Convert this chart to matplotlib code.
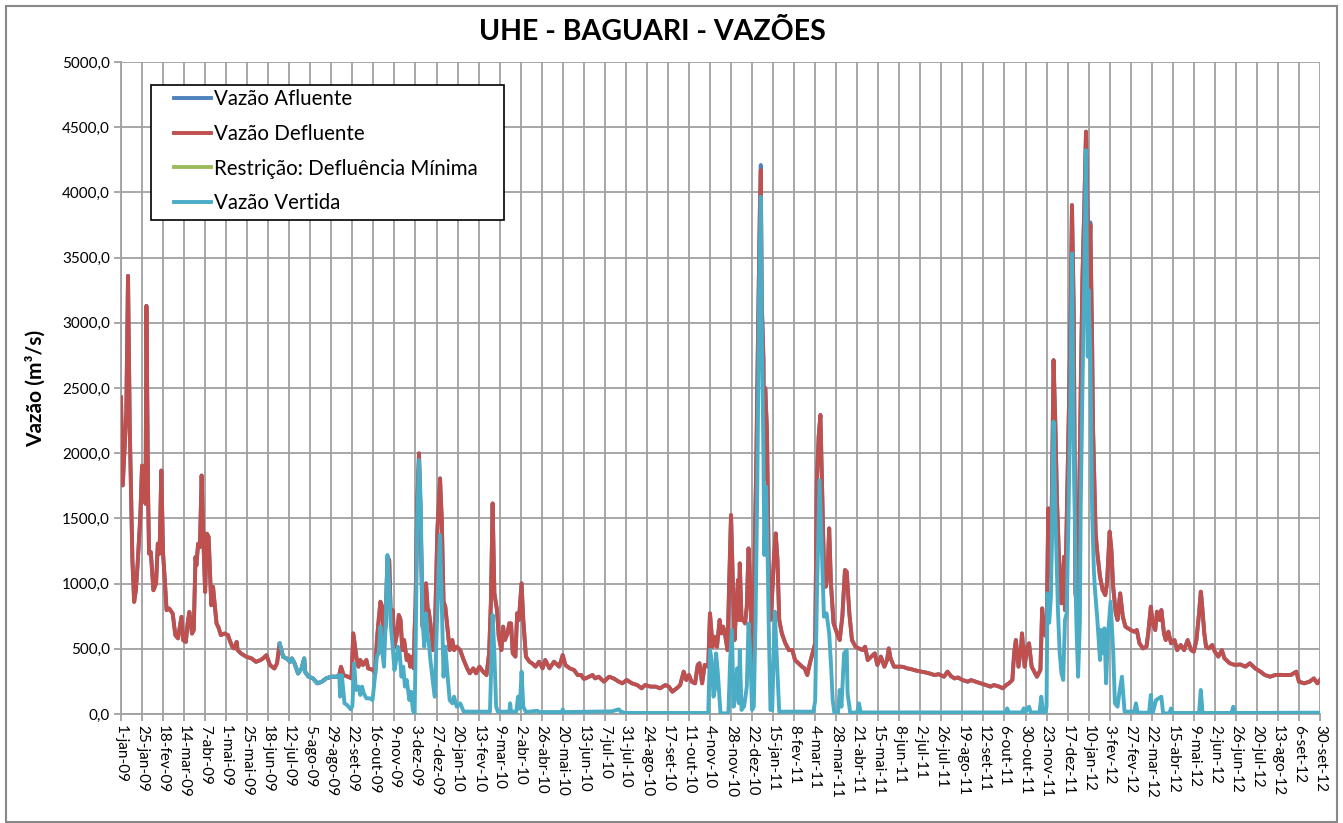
import datetime as dt

import matplotlib
matplotlib.use('Agg')
import matplotlib.pyplot as plt
from matplotlib.patches import Rectangle

plt.rcParams['font.family'] = ['Lato', 'DejaVu Sans']

# dias contados a partir de 01/01/2009
inicio = dt.date(2009, 1, 1)

dia_def = [0, 2, 6, 8, 10, 12, 13, 15, 17, 19, 22, 24, 25, 26, 28, 29, 31, 32, 34, 37,
           40, 42, 44, 46, 48, 50, 52, 55, 59, 62, 65, 69, 71, 74, 76, 78, 81, 83, 85, 86,
           88, 90, 92, 94, 96, 98, 100, 103, 105, 107, 109, 111, 114, 118, 122, 124, 127, 129, 132, 133,
           137, 143, 149, 154, 159, 162, 166, 170, 175, 178, 181, 185, 189, 193, 195, 198, 202, 206, 209, 210,
           214, 219, 224, 229, 234, 240, 246, 249, 251, 254, 259, 263, 265, 269, 271, 273, 276, 280, 282, 288,
           290, 292, 294, 296, 298, 300, 302, 304, 306, 308, 310, 312, 315, 317, 319, 321, 323, 326, 328, 330,
           332, 334, 335, 336, 338, 340, 342, 344, 346, 348, 350, 351, 353, 356, 358, 361, 364, 366, 368, 370,
           373, 375, 378, 380, 383, 387, 391, 395, 398, 402, 405, 409, 413, 417, 420, 422, 424, 426, 429, 431,
           434, 436, 438, 441, 443, 445, 447, 450, 452, 454, 457, 459, 462, 466, 469, 473, 477, 481, 484, 489,
           494, 500, 504, 507, 512, 517, 521, 525, 528, 530, 534, 538, 541, 545, 551, 557, 562, 568, 572, 577,
           583, 589, 594, 598, 604, 610, 615, 621, 625, 629, 634, 638, 642, 645, 648, 651, 655, 658, 660, 663,
           666, 670, 672, 675, 677, 680, 683, 685, 687, 689, 692, 694, 696, 698, 700, 702, 704, 705, 706, 708,
           710, 712, 714, 716, 718, 720, 721, 723, 725, 727, 729, 730, 731, 733, 734, 735, 737, 739, 741, 743,
           745, 747, 749, 751, 754, 758, 762, 766, 769, 773, 777, 780, 783, 786, 789, 792, 794, 796, 798, 800,
           802, 804, 806, 808, 810, 813, 817, 820, 823, 826, 828, 831, 834, 838, 842, 846, 849, 852, 856, 860,
           863, 867, 871, 874, 876, 878, 882, 886, 890, 893, 897, 901, 905, 909, 913, 917, 922, 928, 933, 939,
           943, 947, 951, 955, 960, 966, 970, 975, 981, 987, 992, 996, 1002, 1006, 1010, 1013, 1017, 1019, 1021, 1024,
           1027, 1028, 1031, 1034, 1036, 1039, 1042, 1045, 1049, 1051, 1053, 1056, 1058, 1061, 1064, 1066, 1068, 1071, 1073, 1076,
           1077, 1080, 1083, 1085, 1087, 1089, 1091, 1094, 1095, 1097, 1099, 1101, 1103, 1104, 1106, 1108, 1109, 1112, 1114, 1117,
           1120, 1123, 1125, 1128, 1130, 1132, 1135, 1137, 1140, 1143, 1146, 1152, 1156, 1159, 1162, 1166, 1170, 1172, 1175, 1177,
           1180, 1182, 1185, 1187, 1190, 1192, 1195, 1198, 1202, 1205, 1209, 1213, 1217, 1221, 1224, 1227, 1230, 1232, 1233, 1236,
           1238, 1241, 1245, 1248, 1252, 1256, 1259, 1265, 1271, 1277, 1283, 1288, 1294, 1300, 1305, 1311, 1317, 1323, 1329, 1335,
           1341, 1344, 1350, 1356, 1361, 1365, 1368]

defluente = [2428, 1753, 2300, 3360, 2200, 1510, 1180, 860, 950, 1153, 1510, 1905, 1638, 1867, 1612, 3130, 1638, 1230, 1242, 949,
             1000, 1306, 1230, 1867, 1230, 1025, 796, 809, 770, 605, 580, 745, 566, 553, 694, 783, 617, 643, 1204, 1140,
             1306, 1280, 1829, 1332, 936, 1383, 1357, 834, 975, 834, 694, 668, 605, 617, 605, 566, 515, 503, 553, 490,
             464, 439, 426, 400, 413, 426, 451, 375, 349, 388, 541, 439, 426, 400, 426, 388, 311, 349, 426, 324,
             286, 273, 235, 247, 273, 286, 286, 298, 362, 298, 286, 273, 618, 414, 363, 414, 376, 414, 350, 337,
             312, 567, 721, 861, 823, 542, 695, 1206, 1180, 695, 797, 516, 618, 759, 721, 490, 567, 414, 452, 363,
             440, 350, 644, 823, 1615, 1999, 1462, 670, 670, 1002, 797, 797, 695, 490, 593, 1411, 1807, 1488, 861, 823,
             618, 490, 567, 490, 516, 490, 414, 350, 312, 350, 312, 363, 325, 299, 465, 849, 1615, 925, 797, 593,
             490, 670, 567, 618, 695, 695, 465, 440, 772, 721, 1002, 721, 440, 401, 389, 363, 401, 350, 414, 350,
             401, 363, 452, 376, 350, 337, 299, 299, 270, 273, 286, 299, 273, 286, 248, 286, 273, 248, 235, 261,
             235, 222, 197, 222, 210, 210, 197, 222, 210, 171, 197, 222, 325, 261, 299, 248, 235, 376, 389, 235,
             376, 363, 772, 516, 593, 516, 721, 618, 670, 618, 490, 1027, 1526, 1027, 567, 823, 1027, 721, 1155, 721,
             721, 695, 823, 1270, 976, 465, 363, 1232, 2000, 3000, 3900, 4171, 3175, 2714, 1800, 2500, 2178, 1130, 721, 925,
             1200, 1385, 1181, 721, 618, 542, 490, 490, 414, 389, 363, 350, 299, 389, 465, 542, 1794, 2127, 2293, 1700,
             1130, 976, 1053, 1424, 1000, 695, 618, 567, 746, 1104, 1091, 772, 567, 516, 503, 490, 516, 414, 440, 465,
             376, 440, 363, 414, 503, 427, 363, 363, 363, 360, 350, 345, 337, 330, 325, 320, 312, 299, 305, 286,
             325, 290, 273, 280, 261, 248, 260, 248, 235, 222, 210, 222, 210, 197, 222, 235, 261, 465, 567, 363,
             516, 618, 363, 516, 542, 363, 325, 286, 337, 810, 618, 593, 1577, 1053, 2714, 2229, 1615, 1053, 849, 1206,
             797, 1820, 2842, 3903, 3098, 925, 797, 1973, 2484, 3354, 3865, 4466, 3788, 3251, 3750, 2842, 2203, 1385, 1232, 1053,
             951, 912, 1002, 1398, 1258, 976, 772, 721, 925, 746, 670, 644, 631, 644, 542, 503, 516, 618, 823, 695,
             644, 785, 721, 797, 618, 567, 631, 542, 567, 490, 529, 490, 567, 490, 478, 567, 772, 938, 874, 618,
             516, 503, 529, 478, 440, 490, 427, 389, 376, 380, 363, 389, 350, 325, 299, 286, 299, 300, 299, 300,
             325, 248, 235, 248, 273, 235, 261]

# afluente coincide com a defluente, exceto onde indicado
afluente_difere = {730: 4210, 1106: 3770}

restricao_min = []

dia_vert = [181, 185, 189, 193, 195, 198, 202, 206, 209, 210, 214, 219, 224, 229, 234, 240, 246, 249, 250, 252,
            255, 258, 262, 264, 266, 268, 271, 273, 275, 277, 280, 284, 287, 289, 292, 294, 296, 298, 300, 302,
            304, 306, 308, 310, 312, 314, 316, 318, 320, 322, 324, 326, 329, 331, 333, 335, 336, 338, 340, 342,
            344, 346, 348, 350, 351, 353, 356, 358, 360, 363, 364, 366, 368, 370, 373, 375, 378, 380, 383, 387,
            391, 421, 424, 426, 428, 430, 443, 444, 445, 451, 453, 455, 457, 459, 462, 475, 477, 503, 504, 505,
            560, 568, 570, 575, 670, 672, 674, 676, 678, 679, 681, 684, 693, 695, 697, 699, 701, 703, 705, 706,
            708, 711, 714, 716, 718, 720, 722, 724, 726, 728, 730, 731, 733, 734, 736, 738, 739, 741, 743, 746,
            748, 751, 790, 792, 794, 797, 800, 802, 805, 808, 810, 812, 814, 818, 820, 822, 825, 828, 829, 832,
            840, 842, 844, 1010, 1011, 1013, 1028, 1030, 1032, 1034, 1036, 1038, 1048, 1050, 1052, 1055, 1056, 1057, 1059, 1061,
            1064, 1066, 1069, 1071, 1073, 1075, 1077, 1079, 1081, 1083, 1085, 1087, 1090, 1092, 1094, 1095, 1097, 1099, 1101, 1103,
            1104, 1106, 1108, 1110, 1111, 1114, 1117, 1118, 1120, 1122, 1124, 1126, 1129, 1132, 1134, 1137, 1139, 1142, 1145, 1156,
            1158, 1160, 1173, 1175, 1177, 1181, 1184, 1187, 1189, 1196, 1198, 1200, 1230, 1232, 1234, 1267, 1269, 1271, 1368]

vertida = [541, 439, 426, 400, 426, 388, 311, 349, 426, 324, 286, 273, 235, 247, 273, 286, 286, 298, 133, 298,
           82, 69, 36, 60, 388, 184, 210, 146, 210, 158, 120, 120, 107, 235, 440, 465, 670, 490, 363, 695,
           1219, 976, 670, 516, 337, 414, 516, 465, 286, 363, 210, 261, 107, 171, 31, 0, 414, 1488, 1948, 1615,
           721, 516, 772, 567, 567, 414, 235, 133, 593, 1232, 1373, 849, 286, 516, 261, 107, 82, 133, 56, 82,
           18, 18, 759, 465, 56, 18, 18, 82, 18, 18, 133, 40, 325, 56, 15, 25, 15, 15, 36, 15,
           20, 36, 20, 8, 8, 490, 414, 133, 200, 465, 312, 5, 5, 414, 644, 56, 133, 350, 82, 490,
           31, 60, 210, 695, 465, 31, 56, 721, 1743, 3200, 3967, 3000, 2000, 1219, 1743, 1130, 700, 31, 31, 785,
           465, 18, 18, 100, 900, 1794, 1181, 746, 772, 618, 389, 107, 5, 5, 184, 56, 465, 490, 158, 10,
           12, 82, 12, 12, 43, 12, 12, 43, 12, 40, 56, 12, 12, 133, 15, 15, 56, 925, 700, 900,
           2242, 1564, 797, 465, 312, 261, 721, 772, 1500, 2331, 3532, 2075, 700, 286, 700, 1590, 2510, 3354, 4325, 2740,
           3251, 2740, 1564, 1100, 976, 721, 414, 644, 465, 657, 235, 593, 861, 490, 82, 56, 158, 286, 18, 18,
           82, 10, 10, 146, 5, 107, 120, 133, 5, 5, 43, 8, 8, 184, 8, 8, 56, 8, 10]

afluente = [afluente_difere.get(d, v) for d, v in zip(dia_def, defluente)]

meses = ['jan', 'fev', 'mar', 'abr', 'mai', 'jun', 'jul', 'ago', 'set', 'out', 'nov', 'dez']
ticks_x = list(range(0, 1369, 24))
rotulos_x = []
for d in ticks_x:
    data = inicio + dt.timedelta(days=d)
    rotulos_x.append('%d-%s-%s' % (data.day, meses[data.month - 1], str(data.year)[2:]))

W, H = 1343, 823
fig = plt.figure(figsize=(W / 100, H / 100), dpi=100)
ax = fig.add_axes([121 / W, 1 - 714 / H, (1320 - 121) / W, (714 - 62) / H])

grade = '#A0A0A0'
lw = 2.8
ax.plot(dia_def, afluente, color='#4F81BD', lw=lw, label='Vazão Afluente', zorder=3)
ax.plot(dia_def, defluente, color='#C0504D', lw=lw, label='Vazão Defluente', zorder=4)
ax.plot(restricao_min, restricao_min, color='#9BBB59', lw=lw,
        label='Restrição: Defluência Mínima', zorder=5)
ax.plot(dia_vert, vertida, color='#4BACC6', lw=lw, label='Vazão Vertida', zorder=6)

ax.set_xlim(0, 1368)
ax.set_ylim(0, 5000)
ax.set_xticks(ticks_x)
ax.set_xticklabels(rotulos_x, rotation=-90, fontsize=11)
ax.set_yticks(range(0, 5001, 500))
ax.set_yticklabels([('%.1f' % v).replace('.', ',') for v in range(0, 5001, 500)], fontsize=11)
ax.grid(True, color=grade, lw=1.3)
ax.set_axisbelow(True)
ax.tick_params(axis='both', color=grade, length=5, width=1.3, pad=3)
for lado in ['top', 'right']:
    ax.spines[lado].set_visible(False)
for lado in ['left', 'bottom']:
    ax.spines[lado].set_color(grade)
    ax.spines[lado].set_linewidth(1.3)

ax.set_ylabel('Vazão (m³/s)', fontsize=15, fontweight='bold', labelpad=12)
fig.text(0.486, 1 - 32 / H, 'UHE - BAGUARI - VAZÕES', ha='center', va='center',
         fontsize=20.5, fontweight='bold')

# moldura da legenda desenhada à parte, legenda por cima dela
fig.patches.append(Rectangle((151 / W, 1 - 220 / H), (504 - 151) / W, (220 - 85) / H,
                             transform=fig.transFigure, facecolor='white',
                             edgecolor='black', lw=1.2, zorder=9))
leg = fig.legend(*ax.get_legend_handles_labels(), loc='upper left',
                 bbox_to_anchor=(174 / W, 1 - 89 / H),
                 fontsize=14.8, frameon=False,
                 handlelength=1.8, handletextpad=0.15, labelspacing=0.72,
                 borderpad=0, borderaxespad=0)
leg.set_zorder(10)
fig.patches.append(Rectangle((6 / W, 1 / H), (1337 - 6) / W, (817 - 1) / H,
                             transform=fig.transFigure, fill=False,
                             edgecolor='#888888', lw=1.5))

fig.savefig('out.png', dpi=100)
